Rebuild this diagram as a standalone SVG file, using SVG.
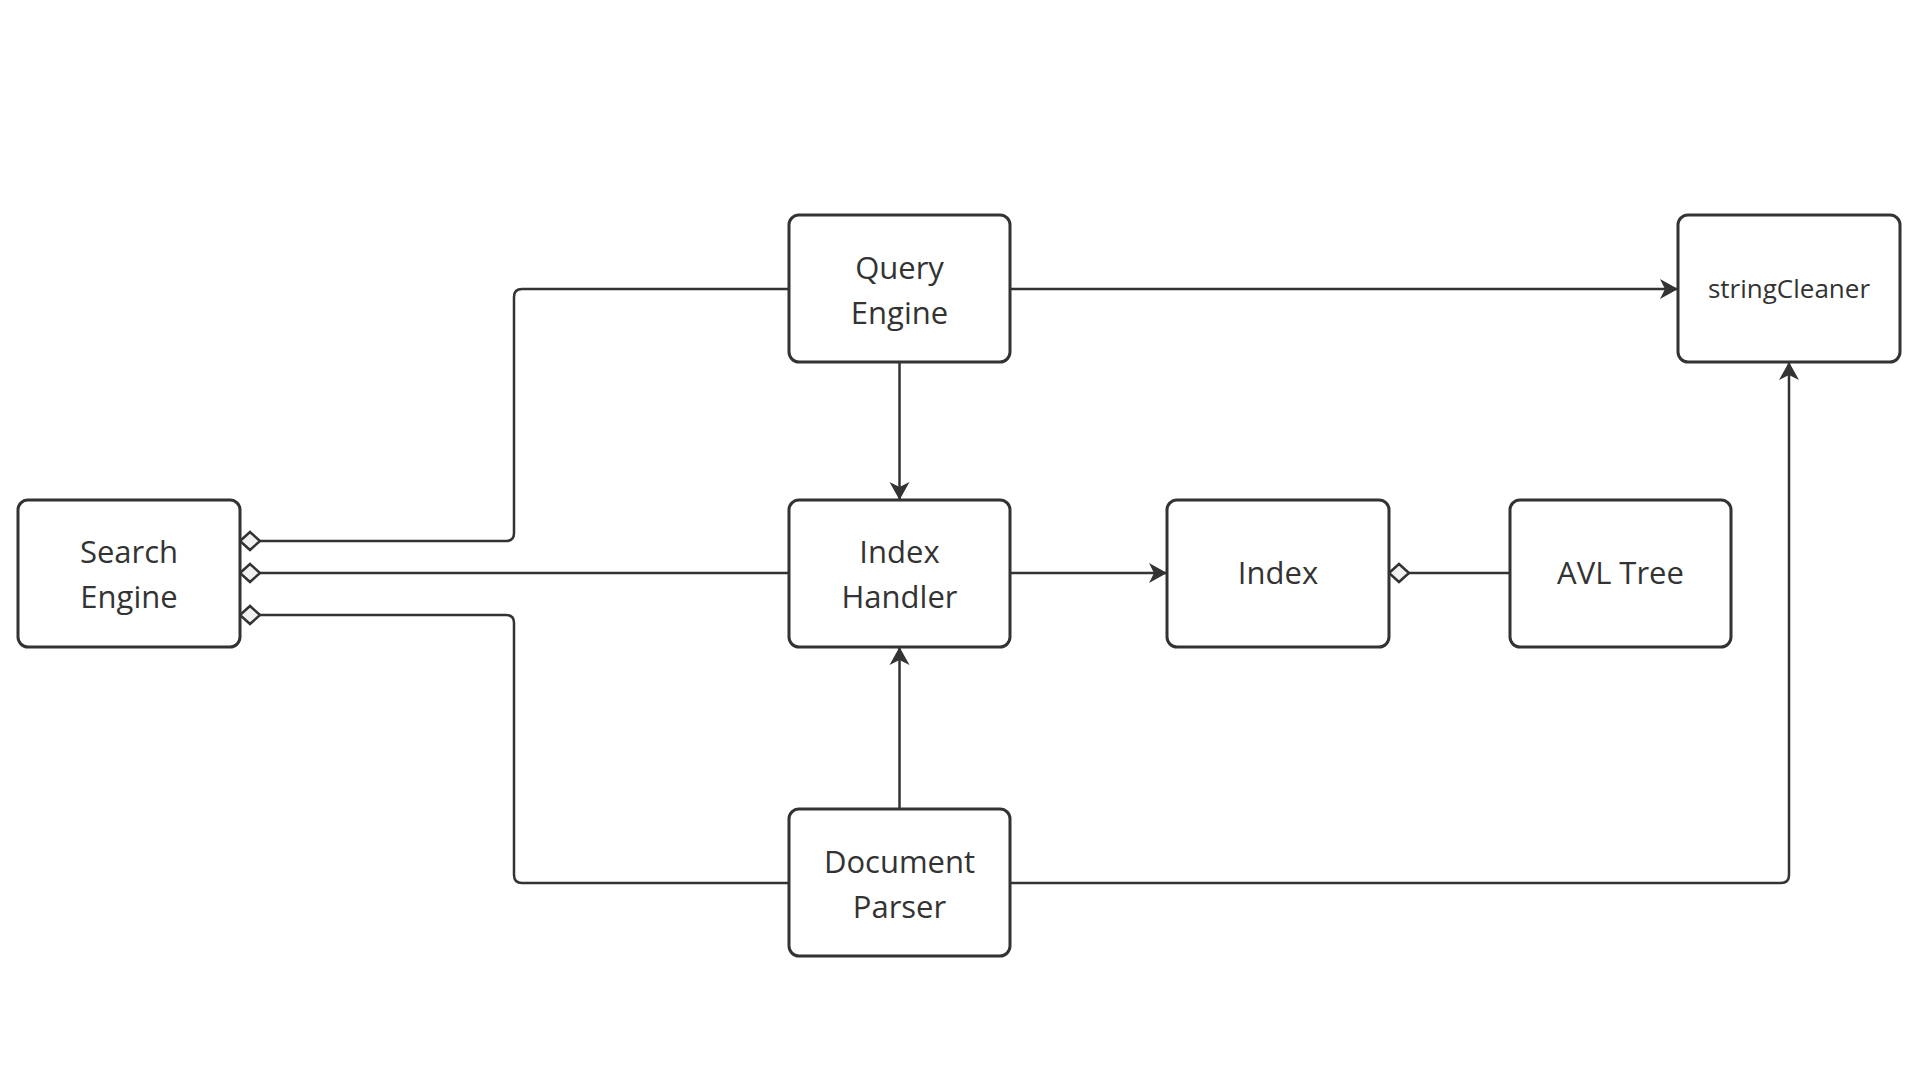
<svg xmlns="http://www.w3.org/2000/svg" width="1920" height="1080" viewBox="0 0 1920 1080">
<style>
.box{fill:#ffffff;stroke:#333333;stroke-width:3}
.lbl{font-family:"Open Sans","Liberation Sans",sans-serif;font-size:31px;fill:#333333;text-anchor:middle}
.sm{font-size:26px}
.ln{fill:none;stroke:#333333;stroke-width:2.5;stroke-linejoin:round}
</style>
<defs>
<marker id="arr" viewBox="0 0 20 22" refX="19" refY="11" markerWidth="20" markerHeight="22" markerUnits="userSpaceOnUse" orient="auto">
<path d="M1,1 L19,11 L1,21 L6,11 Z" fill="#333333"/>
</marker>
<marker id="dia" viewBox="0 0 24 22" refX="1.5" refY="11" markerWidth="24" markerHeight="22" markerUnits="userSpaceOnUse" orient="auto">
<path d="M1.5,11 L11.5,2 L21.5,11 L11.5,20 Z" fill="#f2f2f2" stroke="#333333" stroke-width="2.5"/>
</marker>
</defs>
<rect width="1920" height="1080" fill="#ffffff"/>
<g id="connectors">
<path class="ln" marker-start="url(#dia)" d="M240,541 H506 Q514,541 514,533 V297 Q514,289 522,289 H789"/>
<path class="ln" marker-start="url(#dia)" d="M240,573 H789"/>
<path class="ln" marker-start="url(#dia)" d="M240,615 H506 Q514,615 514,623 V875 Q514,883 522,883 H789"/>
<path class="ln" marker-end="url(#arr)" d="M1010,289 H1678"/>
<path class="ln" marker-end="url(#arr)" d="M899.5,362 V500"/>
<path class="ln" marker-end="url(#arr)" d="M899.5,809 V647"/>
<path class="ln" marker-end="url(#arr)" d="M1010,573 H1167"/>
<path class="ln" marker-start="url(#dia)" d="M1389,573 H1510"/>
<path class="ln" marker-end="url(#arr)" d="M1010,883 H1781 Q1789,883 1789,875 V362"/>
</g>
<g id="search-engine">
<rect class="box" x="18" y="500" width="222" height="147" rx="10"/>
<text class="lbl" x="129" y="563">Search</text>
<text class="lbl" x="129" y="608">Engine</text>
</g>
<g id="query-engine">
<rect class="box" x="789" y="215" width="221" height="147" rx="10"/>
<text class="lbl" x="899.5" y="279">Query</text>
<text class="lbl" x="899.5" y="324">Engine</text>
</g>
<g id="string-cleaner">
<rect class="box" x="1678" y="215" width="222" height="147" rx="10"/>
<text class="lbl sm" x="1789" y="298">stringCleaner</text>
</g>
<g id="index-handler">
<rect class="box" x="789" y="500" width="221" height="147" rx="10"/>
<text class="lbl" x="899.5" y="563">Index</text>
<text class="lbl" x="899.5" y="608">Handler</text>
</g>
<g id="index">
<rect class="box" x="1167" y="500" width="222" height="147" rx="10"/>
<text class="lbl" x="1278" y="584">Index</text>
</g>
<g id="avl-tree">
<rect class="box" x="1510" y="500" width="221" height="147" rx="10"/>
<text class="lbl" x="1620.5" y="584">AVL Tree</text>
</g>
<g id="document-parser">
<rect class="box" x="789" y="809" width="221" height="147" rx="10"/>
<text class="lbl" x="899.5" y="873">Document</text>
<text class="lbl" x="899.5" y="918">Parser</text>
</g>
</svg>
